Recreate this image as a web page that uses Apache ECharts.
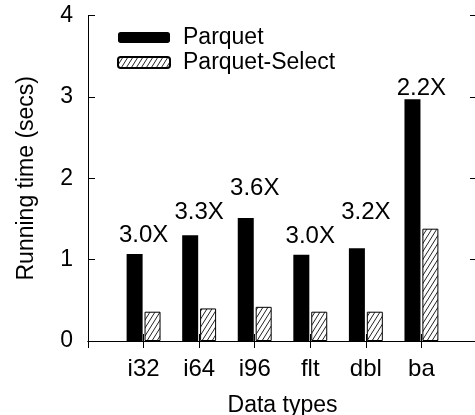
<!DOCTYPE html>
<html><head><meta charset="utf-8">
<script src="https://cdn.jsdelivr.net/npm/echarts@6/dist/echarts.min.js"></script>
<style>html,body{margin:0;padding:0;background:#fff}#c{width:475px;height:415px}</style>
</head><body><div id="c"></div><script>
const categories = ['i32', 'i64', 'i96', 'flt', 'dbl', 'ba'];
const parquet = [1.07, 1.30, 1.51, 1.06, 1.14, 2.97];
const parquetSelect = [0.36, 0.40, 0.42, 0.36, 0.36, 1.38];
const speedups = ['3.0X', '3.3X', '3.6X', '3.0X', '3.2X', '2.2X'];
const speedupLabelHeights = [1.30, 1.58, 1.87, 1.29, 1.58, 3.11];
const yTicks = [0, 1, 2, 3, 4];

const FONT = '"Liberation Sans", Arial, Helvetica, sans-serif';
const axisCats = [''].concat(categories, ['']);

function hatch() {
  const w = 5, h = 8;
  const c = document.createElement('canvas');
  c.width = w; c.height = h;
  const g = c.getContext('2d');
  g.fillStyle = '#fff'; g.fillRect(0, 0, w, h);
  g.strokeStyle = '#222'; g.lineWidth = 1;
  g.beginPath();
  for (const dx of [-w, 0, w]) { g.moveTo(dx, h); g.lineTo(dx + w, 0); }
  g.stroke();
  return c;
}
const hatchFill = { image: hatch(), repeat: 'repeat' };

const chart = echarts.init(document.getElementById('c'), null, { renderer: 'canvas' });
const tickStyle = { show: true, inside: true, length: 7, lineStyle: { color: '#000', width: 1 } };
const lineStyle = { show: true, lineStyle: { color: '#000', width: 1 } };

chart.setOption({
  animation: false,
  backgroundColor: '#fff',
  textStyle: { fontFamily: FONT, color: '#000' },
  grid: { left: 88, top: 15.5, right: -2, bottom: 74, containLabel: false, outerBoundsMode: 'none' },
  legend: {
    orient: 'vertical', left: 112, top: 21, itemWidth: 52, itemHeight: 11, itemGap: 2,
    padding: 5,
    textStyle: { fontFamily: FONT, fontSize: 23, color: '#000', lineHeight: 20, padding: [0, 0, 0, 8] },
    data: ['Parquet', 'Parquet-Select']
  },
  xAxis: [{
    type: 'category', data: axisCats, boundaryGap: false, position: 'bottom',
    axisLine: lineStyle, axisTick: tickStyle,
    axisLabel: { show: true, fontFamily: FONT, fontSize: 24, color: '#000', margin: 16, interval: 0 },
    name: 'Data types', nameLocation: 'middle', nameGap: 53,
    nameTextStyle: { fontFamily: FONT, fontSize: 23, color: '#000' },
    splitLine: { show: false }
  }, {
    type: 'category', data: axisCats, boundaryGap: false, position: 'top',
    axisLine: lineStyle, axisTick: tickStyle, axisLabel: { show: false }, splitLine: { show: false }
  }],
  yAxis: [{
    type: 'value', min: yTicks[0], max: yTicks[yTicks.length - 1], interval: 1, position: 'left',
    axisLine: lineStyle, axisTick: tickStyle,
    axisLabel: { fontFamily: FONT, fontSize: 23, color: '#000', margin: 15 },
    splitLine: { show: false },
    name: 'Running time (secs)', nameLocation: 'middle', nameGap: 50,
    nameTextStyle: { fontFamily: FONT, fontSize: 23, color: '#000' }
  }, {
    type: 'value', min: yTicks[0], max: yTicks[yTicks.length - 1], interval: 1, position: 'right',
    axisLine: lineStyle, axisTick: tickStyle, axisLabel: { show: false }, splitLine: { show: false }
  }],
  series: [{
    name: 'Parquet', type: 'bar', barWidth: 16, barGap: '12%',
    itemStyle: { color: '#000' },
    data: categories.map((c, i) => [c, parquet[i]])
  }, {
    name: 'Parquet-Select', type: 'bar', barWidth: 16, barGap: '12%',
    itemStyle: { color: hatchFill, borderColor: '#000', borderWidth: 1 },
    data: categories.map((c, i) => [c, parquetSelect[i]])
  }, {
    name: 'speedup', type: 'scatter', symbol: 'rect', symbolSize: 1,
    itemStyle: { color: '#fff', opacity: 0 }, silent: true,
    label: {
      show: true, position: 'inside', fontFamily: FONT, fontSize: 24, color: '#000',
      textBorderWidth: 0, opacity: 1,
      formatter: p => speedups[p.dataIndex]
    },
    data: categories.map((c, i) => [c, speedupLabelHeights[i]])
  }]
});
</script></body></html>
